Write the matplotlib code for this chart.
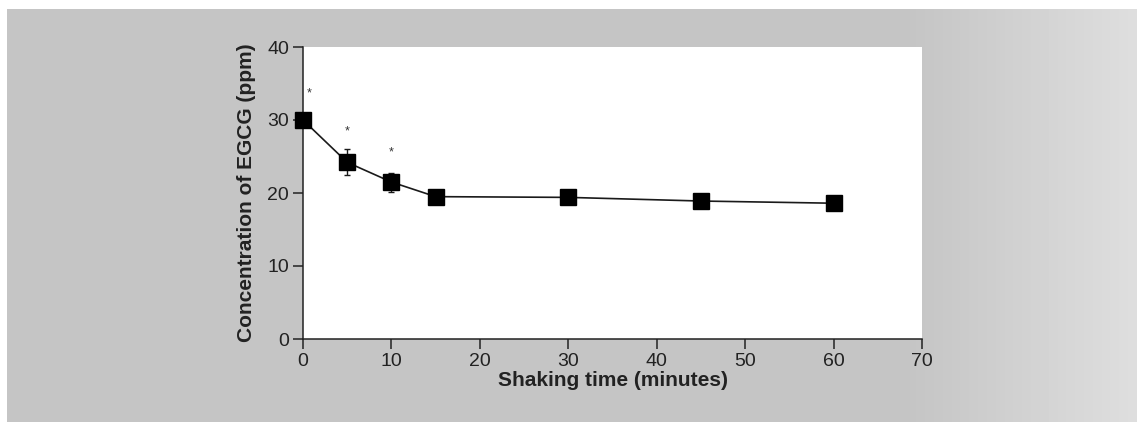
import numpy as np
import matplotlib.pyplot as plt

# Data
shaking_time = [0, 5, 10, 15, 30, 45, 60]
egcg_ppm = [30.0, 24.2, 21.5, 19.5, 19.4, 18.9, 18.6]
egcg_err = [0.5, 1.8, 1.3, 0.4, 0.4, 0.8, 0.4]

# significance markers (x, y)
star_x = [0.7, 5.0, 10.0]
star_y = [33.6, 28.4, 25.5]

x_ticks = [0, 10, 20, 30, 40, 50, 60, 70]
y_ticks = [0, 10, 20, 30, 40]

plt.rcParams.update({'font.family': ['Liberation Sans', 'DejaVu Sans']})

W, H = 1137, 422
fig = plt.figure(figsize=(W / 100, H / 100), dpi=100)
fig.patch.set_facecolor('white')

# Scanned grey page behind the chart, lighter towards the right edge
bg = fig.add_axes([7 / W, 0, 1 - 7 / W, 1 - 9 / H])
grad = np.linspace(0, 1, 256)
shade = np.where(grad < 0.8, 0.77, 0.77 + (grad - 0.8) / 0.2 * 0.1)
bg.imshow(shade[np.newaxis, :], cmap='gray', vmin=0, vmax=1,
          aspect='auto', extent=[0, 1, 0, 1])
bg.set_axis_off()

# Main axes: x 0..70 spans px 303..922, y 0..40 spans px 339..47
left, right = 303, 922
top, bottom = 47, 339
ax = fig.add_axes([left / W, 1 - bottom / H, (right - left) / W, (bottom - top) / H])
ax.set_facecolor('white')

ax.errorbar(shaking_time, egcg_ppm, yerr=egcg_err,
            color='#1a1a1a', lw=1.2, marker='s', markersize=11,
            markerfacecolor='black', markeredgecolor='black',
            ecolor='#1a1a1a', elinewidth=1.0, capsize=2.5, zorder=3,
            clip_on=False)

for sx, sy in zip(star_x, star_y):
    ax.text(sx, sy, '*', ha='center', va='center', fontsize=9, color='#333333')

ax.set_xlim(0, 70)
ax.set_ylim(0, 40)
ax.set_xticks(x_ticks)
ax.set_yticks(y_ticks)

for side in ['top', 'right']:
    ax.spines[side].set_visible(False)
for side in ['left', 'bottom']:
    ax.spines[side].set_color('#222222')
    ax.spines[side].set_linewidth(1.1)

ax.tick_params(direction='out', length=7, width=1.1, color='#222222',
               labelsize=14, labelcolor='#222222', pad=3)

ax.set_xlabel('Shaking time (minutes)', fontsize=15, fontweight='bold',
              color='#222222', labelpad=1)
ax.set_ylabel('Concentration of EGCG (ppm)', fontsize=15, fontweight='bold',
              color='#222222', labelpad=8)

fig.savefig('out.png', dpi=100)
